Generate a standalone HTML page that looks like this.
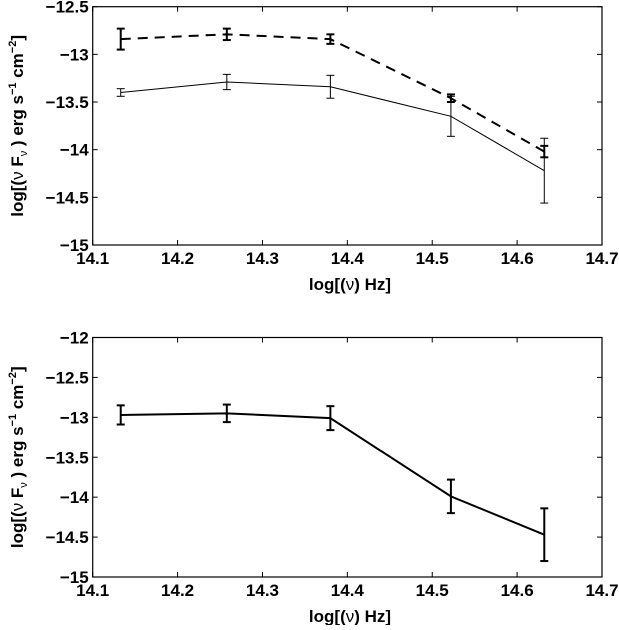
<!DOCTYPE html>
<html><head><meta charset="utf-8"><style>
body{margin:0;background:#fff;}
svg text{font-family:"Liberation Sans",sans-serif;font-weight:bold;font-size:17px;fill:#000;}
</style></head><body>
<svg id="c" width="619" height="625" viewBox="0 0 619 625" xmlns="http://www.w3.org/2000/svg"></svg>
<script>
const freqs=[14.133,14.258,14.38,14.522,14.632];
const topDashed=[-12.84,-12.79,-12.84,-13.46,-14.02];
const topDashedErr=[0.11,0.06,0.05,0.04,0.06];
const topSolid=[-13.40,-13.29,-13.34,-13.65,-14.22];
const topSolidErr=[0.04,0.08,0.12,0.21,0.34];
const botSolid=[-12.97,-12.95,-13.01,-13.99,-14.47];
const botSolidErr=[0.12,0.11,0.15,0.21,0.33];
const xTicks=[14.1,14.2,14.3,14.4,14.5,14.6,14.7];
const yTicksTop=[-12.5,-13,-13.5,-14,-14.5,-15];
const yTicksBot=[-12,-12.5,-13,-13.5,-14,-14.5,-15];

const NS="http://www.w3.org/2000/svg";
const svg=document.getElementById('c');
function mk(tag,attrs,parent){const e=document.createElementNS(NS,tag);for(const k in attrs)e.setAttribute(k,attrs[k]);(parent||svg).appendChild(e);return e;}

function panel(name,top,bottom,ymin,ymax,yTicks,series){
  const L=92.7,R=602;
  const g=mk('g',{});
  
  
  const sx=v=>L+(v-14.1)/(0.6)*(R-L);
  const sy=v=>top+(ymax-v)/(ymax-ymin)*(bottom-top);
  const frame=mk('rect',{x:L,y:top,width:R-L,height:bottom-top,fill:'none',stroke:'#000','stroke-width':1.2},g);
  
  
  xTicks.forEach(t=>{
    const x=sx(t);
    mk('line',{x1:x,x2:x,y1:bottom,y2:bottom-5,stroke:'#000'},g);
    mk('line',{x1:x,x2:x,y1:top,y2:top+5,stroke:'#000'},g);
    const tx=mk('text',{x:x,y:bottom+19,'text-anchor':'middle'},g);
    tx.textContent=t.toFixed(1);
    
    
  });
  yTicks.forEach(t=>{
    const y=sy(t);
    mk('line',{x1:L,x2:L+5,y1:y,y2:y,stroke:'#000'},g);
    mk('line',{x1:R,x2:R-5,y1:y,y2:y,stroke:'#000'},g);
    const tx=mk('text',{x:L-4,y:y+6,'text-anchor':'end'},g);
    tx.textContent=String(t).replace('-','\u2212');
    
    
  });
  const xl=mk('text',{x:350,y:bottom+45,'text-anchor':'middle'},g);
  xl.innerHTML='log[(<tspan font-weight="normal">\u03bd</tspan>) Hz]';
  
  
  const yc=(top+bottom)/2;
  const yl=mk('text',{x:0,y:0,'text-anchor':'middle',transform:`translate(23,${yc}) rotate(-90)`},g);
  yl.innerHTML='log[(<tspan font-weight="normal">\u03bd</tspan> F<tspan font-size="11" dy="4" font-weight="normal">\u03bd</tspan><tspan dy="-4"> ) erg s</tspan><tspan font-size="11" dy="-7">\u22121</tspan><tspan dy="7"> cm</tspan><tspan font-size="11" dy="-7">\u22122</tspan><tspan dy="7">]</tspan>';
  
  
  series.forEach(s=>{
    const pts=freqs.map((f,i)=>sx(f)+','+sy(s.vals[i])).join(' ');
    const pl=mk('polyline',{points:pts,fill:'none',stroke:'#000','stroke-width':s.w,'stroke-dasharray':s.dash||'none'},g);
    
    
    freqs.forEach((f,i)=>{
      const x=sx(f),y1=sy(s.vals[i]+s.err[i]),y2=sy(s.vals[i]-s.err[i]);
      const eg=mk('g',{stroke:'#000','stroke-width':s.w},g);
      
      
      mk('line',{x1:x,x2:x,y1:y1,y2:y2},eg);
      mk('line',{x1:x-4,x2:x+4,y1:y1,y2:y1},eg);
      mk('line',{x1:x-4,x2:x+4,y1:y2,y2:y2},eg);
    });
  });
}
panel('top-panel',6.7,245,-15,-12.5,yTicksTop,[
  {name:'dashed-series',vals:topDashed,err:topDashedErr,w:2,dash:'10,7'},
  {name:'solid-series',vals:topSolid,err:topSolidErr,w:1}
]);
panel('bottom-panel',337.5,577,-15,-12,yTicksBot,[
  {name:'bottom-series',vals:botSolid,err:botSolidErr,w:2}
]);
</script>
</body></html>
